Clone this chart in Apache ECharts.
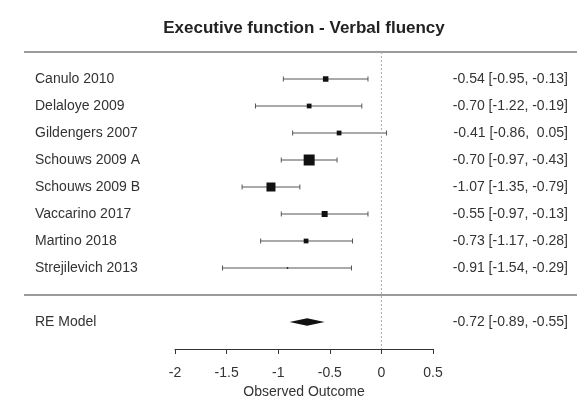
<!DOCTYPE html>
<html>
<head>
<meta charset="utf-8">
<script src="https://cdn.jsdelivr.net/npm/echarts@6/dist/echarts.min.js"></script>
<style>
  html, body { margin: 0; padding: 0; background: #fff; }
  #chart { width: 577px; height: 408px; }
</style>
</head>
<body>
<div id="chart"></div>
<script>
// Study-level effects (standardised mean differences with 95% CI)
const studies   = ['Canulo 2010', 'Delaloye 2009', 'Gildengers 2007', 'Schouws 2009 A',
                   'Schouws 2009 B', 'Vaccarino 2017', 'Martino 2018', 'Strejilevich 2013'];
const estimates = [-0.54, -0.70, -0.41, -0.70, -1.07, -0.55, -0.73, -0.91];
const ciLower   = [-0.95, -1.22, -0.86, -0.97, -1.35, -0.97, -1.17, -1.54];
const ciUpper   = [-0.13, -0.19,  0.05, -0.43, -0.79, -0.13, -0.28, -0.29];
const weights   = [11, 9.5, 9.5, 22, 18, 12, 9.5, 3];   // relative study weights

// Random-effects summary
const pooledLabel = ['RE Model'];
const pooledEst   = [-0.72];
const pooledLo    = [-0.89];
const pooledHi    = [-0.55];

// Axis ticks
const tickValues = [-2, -1.5, -1, -0.5, 0, 0.5];

// ---- layout ----
const W = 577;
const axisLeftPx = 175, axisRightPx = 433;           // pixel span of the visible axis
const tMin = tickValues[0], tMax = tickValues[tickValues.length - 1];
const pxPerUnit = (axisRightPx - axisLeftPx) / (tMax - tMin);
const xMinFull = tMin - axisLeftPx / pxPerUnit;       // full-width hidden axis
const xMaxFull = tMax + (W - axisRightPx) / pxPerUnit;
const k = studies.length;
const TEXT = '#333';
const FONT = '"Liberation Sans", Arial, sans-serif';

const fmt = v => (v < 0 ? '-' : ' ') + Math.abs(v).toFixed(2);
const ciText = (e, l, h) => `${fmt(e).trim()} [${fmt(l)}, ${fmt(h)}]`;

const studyData = studies.map((s, i) => [k - i, estimates[i], ciLower[i], ciUpper[i], weights[i], i]);
const pooledData = pooledLabel.map((s, i) => [-1, pooledEst[i], pooledLo[i], pooledHi[i], 0, i]);

function rowTexts(y, left, right) {
  return [
    { type: 'text', style: { x: 35, y: y, text: left, fill: TEXT, font: '14px ' + FONT,
        textAlign: 'left', textVerticalAlign: 'middle' } },
    { type: 'text', style: { x: 568, y: y, text: right, fill: TEXT, font: '14px ' + FONT,
        textAlign: 'right', textVerticalAlign: 'middle' } }
  ];
}

const chart = echarts.init(document.getElementById('chart'), null, { renderer: 'canvas' });
chart.setOption({
  animation: false,
  backgroundColor: '#fff',
  title: {
    text: 'Executive function - Verbal fluency',
    left: 299, top: 15, textAlign: 'center',
    textStyle: { fontFamily: FONT, fontSize: 17, fontWeight: 'bold', color: '#222' }
  },
  grid: [
    { left: 0, right: 0, top: 52, bottom: 59 },
    { left: axisLeftPx, width: axisRightPx - axisLeftPx, top: 340, height: 9 }
  ],
  xAxis: [
    { type: 'value', gridIndex: 0, min: xMinFull, max: xMaxFull, show: false },
    { type: 'value', gridIndex: 1, min: tMin, max: tMax, interval: tickValues[1] - tickValues[0],
      name: 'Observed Outcome', nameLocation: 'middle', nameGap: 36,
      nameTextStyle: { fontFamily: FONT, fontSize: 14, color: TEXT },
      axisLine: { show: true, lineStyle: { color: '#333', width: 1.2 } },
      axisTick: { show: true, length: 5, lineStyle: { color: '#333' } },
      axisLabel: { fontFamily: FONT, fontSize: 14, color: TEXT, margin: 17,
                   showMinLabel: true, showMaxLabel: true },
      splitLine: { show: false } }
  ],
  yAxis: [
    { type: 'value', gridIndex: 0, min: -2, max: k + 1, show: false },
    { type: 'value', gridIndex: 1, min: 0, max: 1, show: false }
  ],
  series: [
    // header and summary separators
    {
      type: 'custom', xAxisIndex: 0, yAxisIndex: 0, silent: true,
      data: [[k + 1], [0]],
      renderItem(params, api) {
        const y = api.coord([0, api.value(0)])[1];
        return { type: 'line', shape: { x1: 24, y1: y, x2: W, y2: y },
                 style: { stroke: '#7a7a7a', lineWidth: 1.6 } };
      }
    },
    // reference line at zero
    {
      type: 'line', xAxisIndex: 0, yAxisIndex: 0, silent: true, symbol: 'none',
      data: [[0, k + 1], [0, -2]],
      lineStyle: { color: '#aaa', width: 1, type: [2, 2] }
    },
    // individual studies
    {
      type: 'custom', xAxisIndex: 0, yAxisIndex: 0, silent: true,
      data: studyData,
      renderItem(params, api) {
        const row = api.value(0);
        const pE = api.coord([api.value(1), row]);
        const pL = api.coord([api.value(2), row]);
        const pH = api.coord([api.value(3), row]);
        const side = api.value(4) / 2;
        const i = api.value(5);
        const y = pE[1];
        return {
          type: 'group',
          children: [
            { type: 'line', shape: { x1: pL[0], y1: y, x2: pH[0], y2: y },
              style: { stroke: '#555', lineWidth: 1 } },
            { type: 'line', shape: { x1: pL[0], y1: y - 2.5, x2: pL[0], y2: y + 2.5 },
              style: { stroke: '#555', lineWidth: 1 } },
            { type: 'line', shape: { x1: pH[0], y1: y - 2.5, x2: pH[0], y2: y + 2.5 },
              style: { stroke: '#555', lineWidth: 1 } },
            { type: 'rect', shape: { x: pE[0] - side / 2, y: y - side / 2, width: side, height: side },
              style: { fill: '#111' } }
          ].concat(rowTexts(y, studies[i], ciText(estimates[i], ciLower[i], ciUpper[i])))
        };
      }
    },
    // pooled random-effects diamond
    {
      type: 'custom', xAxisIndex: 0, yAxisIndex: 0, silent: true,
      data: pooledData,
      renderItem(params, api) {
        const row = api.value(0);
        const pE = api.coord([api.value(1), row]);
        const pL = api.coord([api.value(2), row]);
        const pH = api.coord([api.value(3), row]);
        const i = api.value(5);
        const y = pE[1], h = 3.8;
        return {
          type: 'group',
          children: [
            { type: 'polygon', shape: { points: [[pL[0], y], [pE[0], y - h], [pH[0], y], [pE[0], y + h]] },
              style: { fill: '#111' } }
          ].concat(rowTexts(y, pooledLabel[i], ciText(pooledEst[i], pooledLo[i], pooledHi[i])))
        };
      }
    },
    // keeps the outcome axis grid active
    { type: 'scatter', xAxisIndex: 1, yAxisIndex: 1, data: [], silent: true }
  ]
});
</script>
</body>
</html>
